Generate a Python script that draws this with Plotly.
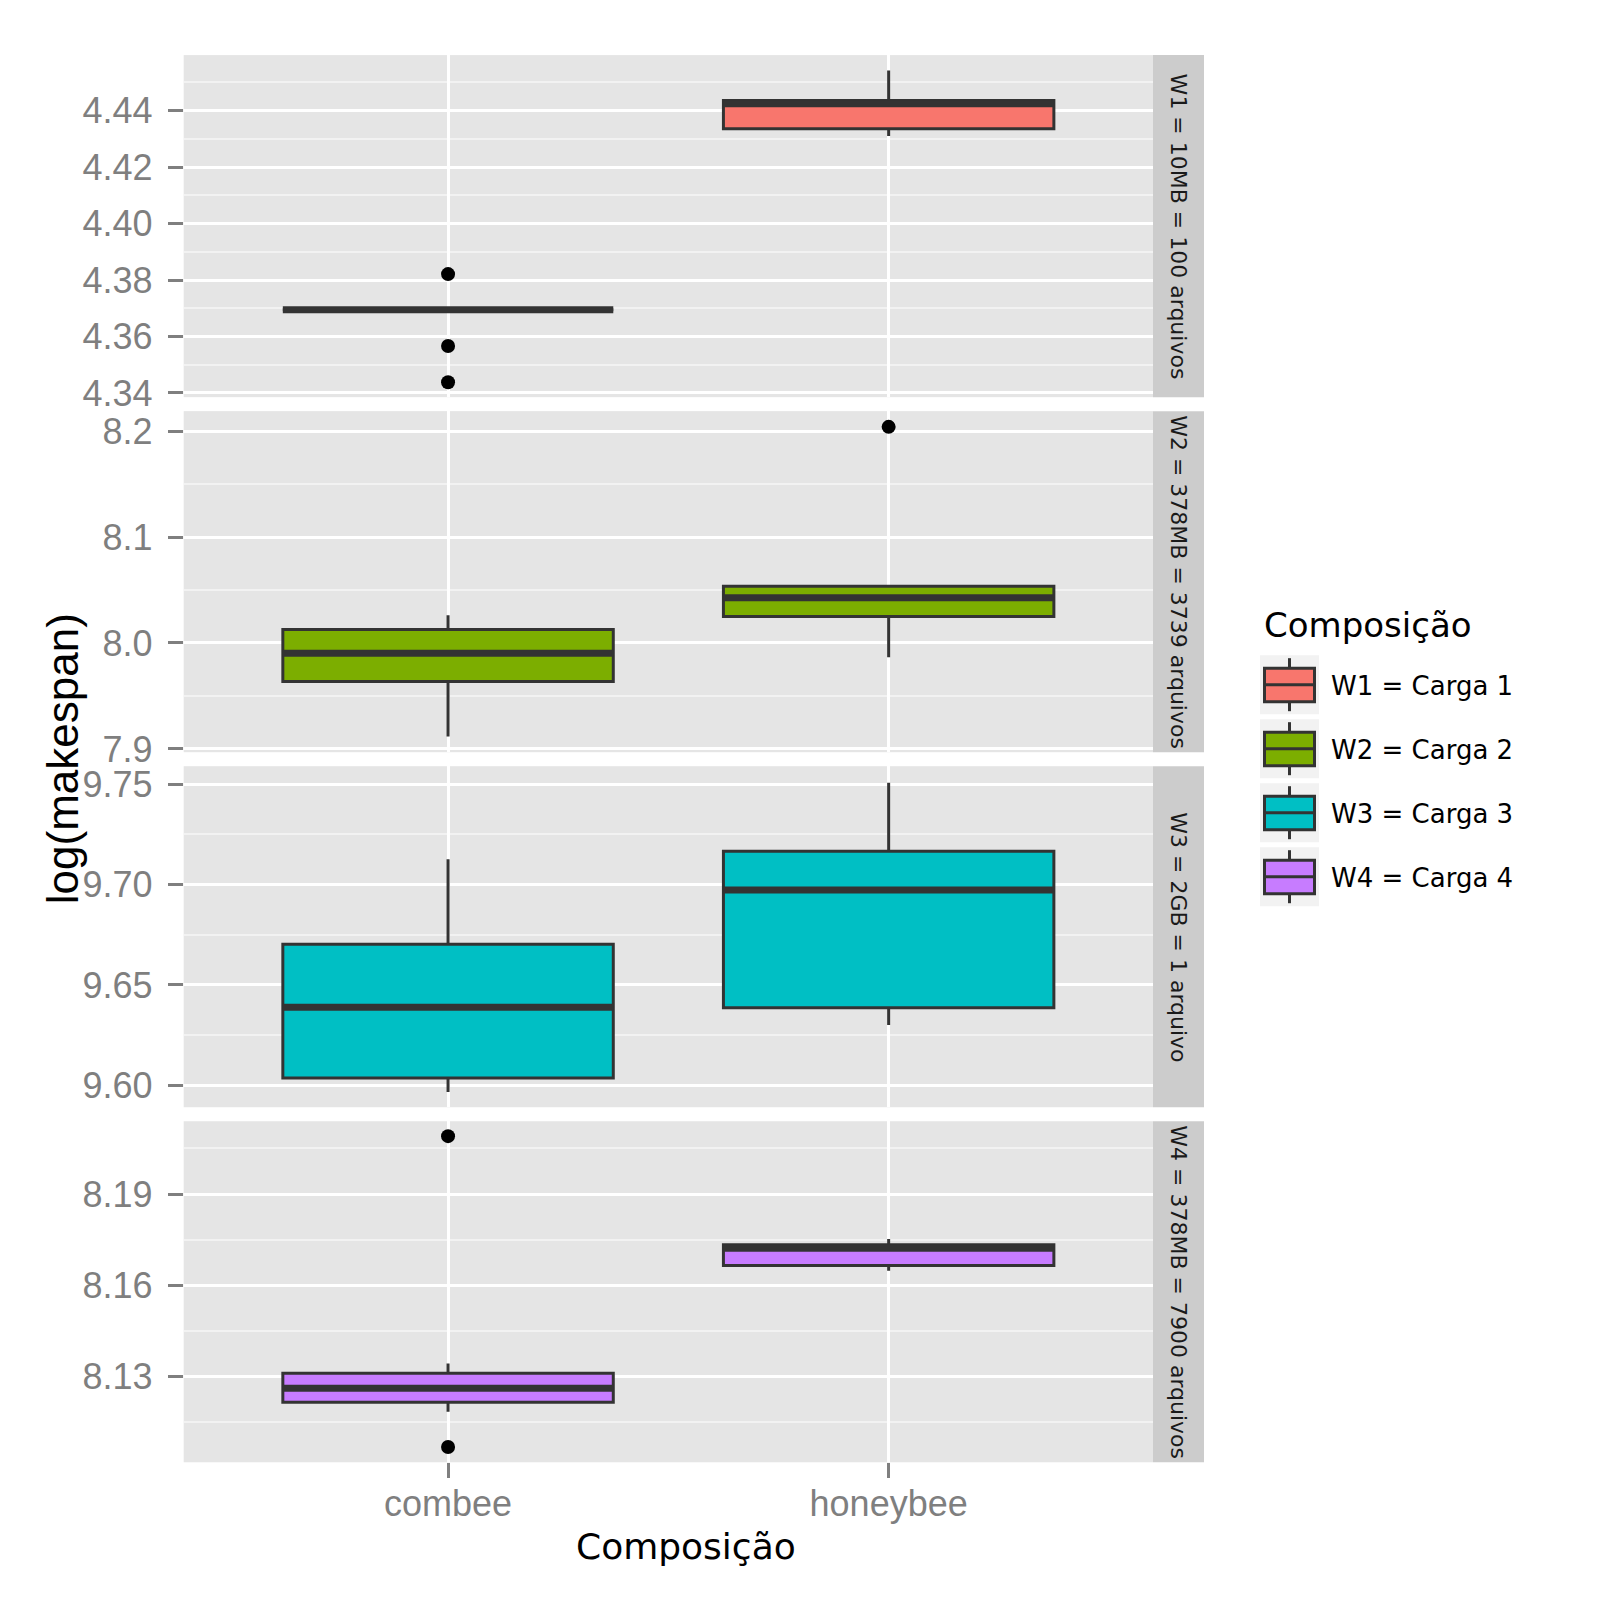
import plotly.graph_objects as go

# ---------------- data ----------------
categories = ["combee", "honeybee"]
panel_labels = ["W1 = 10MB = 100 arquivos", "W2 = 378MB = 3739 arquivos",
                "W3 = 2GB = 1 arquivo", "W4 = 378MB = 7900 arquivos"]
legend_labels = ["W1 = Carga 1", "W2 = Carga 2", "W3 = Carga 3", "W4 = Carga 4"]
colors = ["#F8766D", "#7CAE00", "#00BFC4", "#C77CFF"]

# per panel: [combee, honeybee]
q1 = [[4.3695, 4.4336], [7.9637, 8.0251], [9.6036, 9.6386], [8.1216, 8.1665]]
median = [[4.3695, 4.4425], [7.9904, 8.0427], [9.6389, 9.6972], [8.1262, 8.1722]]
q3 = [[4.3695, 4.4436], [8.0128, 8.0535], [9.6702, 9.7165], [8.1311, 8.1733]]
lower_whisker = [[4.3695, 4.4310], [7.9117, 7.9866], [9.5967, 9.6301], [8.1185, 8.1648]]
upper_whisker = [[4.3695, 4.4542], [8.0261, 8.0550], [9.7126, 9.7507], [8.1343, 8.1752]]
outliers_x = [[0, 0, 0], [1], [], [0, 0]]
outliers_y = [[4.3821, 4.3566, 4.3438], [8.2041], [], [8.2090, 8.1069]]

y_ranges = [[4.3385, 4.4597], [7.8969, 8.2189], [9.5891, 9.7589], [8.1019, 8.2139]]
y_tickvals = [[4.34, 4.36, 4.38, 4.40, 4.42, 4.44],
              [7.9, 8.0, 8.1, 8.2],
              [9.60, 9.65, 9.70, 9.75],
              [8.13, 8.16, 8.19]]
y_ticktext = [["4.34", "4.36", "4.38", "4.40", "4.42", "4.44"],
              ["7.9", "8.0", "8.1", "8.2"],
              ["9.60", "9.65", "9.70", "9.75"],
              ["8.13", "8.16", "8.19"]]
minor_step = [0.01, 0.05, 0.025, 0.015]

# ---------------- layout constants ----------------
OFF = 8        # browser body margin
SY = 0.988     # observed vertical scale of the rendered page
W = 1584
H = 1600
px_x = lambda v: (v - OFF) / W
px_y = lambda v: 1 - (v / SY - OFF) / H
x_dom = [px_x(183.7), px_x(1153)]
panel_px = [(53, 395), (409, 750), (764, 1105), (1119, 1460)]
box_w = 0.75
OUT = "#333333"
TICK_FONT = dict(family="Liberation Sans, Arial", size=36, color="#7F7F7F")
DV = "DejaVu Sans"

fig = go.Figure()
layout = dict(
    width=W, height=H,
    margin=dict(l=0, r=0, t=0, b=0),
    paper_bgcolor="white", plot_bgcolor="#E5E5E5",
    showlegend=False,
)

shapes = []
annotations = []

for i in range(4):
    xa = "x" if i == 0 else f"x{i+1}"
    ya = "y" if i == 0 else f"y{i+1}"
    xkey = "xaxis" if i == 0 else f"xaxis{i+1}"
    ykey = "yaxis" if i == 0 else f"yaxis{i+1}"
    top, bot = panel_px[i]
    for j, cat in enumerate(categories):
        fig.add_trace(go.Box(
            x=[j], q1=[q1[i][j]], median=[median[i][j]], q3=[q3[i][j]],
            lowerfence=[lower_whisker[i][j]], upperfence=[upper_whisker[i][j]],
            width=box_w, whiskerwidth=0, boxpoints=False,
            fillcolor=colors[i], line=dict(color=OUT, width=3),
            xaxis=xa, yaxis=ya, name=cat, hoverinfo="skip",
        ))
        fig.add_trace(go.Scatter(
            x=[j - box_w / 2, j + box_w / 2], y=[median[i][j], median[i][j]],
            mode="lines", line=dict(color=OUT, width=7),
            xaxis=xa, yaxis=ya, hoverinfo="skip",
        ))
    if outliers_y[i]:
        fig.add_trace(go.Scatter(
            x=outliers_x[i], y=outliers_y[i], mode="markers",
            marker=dict(color="black", size=14),
            xaxis=xa, yaxis=ya, hoverinfo="skip",
        ))
    bottom = (i == 3)
    layout[xkey] = dict(
        domain=x_dom, anchor=ya, range=[-0.6, 1.6],
        tickmode="array", tickvals=list(range(len(categories))),
        ticktext=categories if bottom else ["", ""],
        showticklabels=bottom,
        ticks="outside" if bottom else "", ticklen=15, tickwidth=3, tickcolor="#7F7F7F",
        tickfont=TICK_FONT, ticklabelstandoff=-5,
        showgrid=True, gridcolor="white", gridwidth=3,
        zeroline=False, showline=False,
    )
    if i > 0:
        layout[xkey]["matches"] = "x"
    layout[ykey] = dict(
        domain=[px_y(bot), px_y(top)], anchor=xa, range=y_ranges[i],
        tickmode="array", tickvals=y_tickvals[i], ticktext=y_ticktext[i],
        ticks="outside", ticklen=15, tickwidth=3, tickcolor="#7F7F7F",
        tickfont=TICK_FONT, ticklabelstandoff=8,
        showgrid=True, gridcolor="white", gridwidth=3,
        minor=dict(tick0=y_tickvals[i][0], dtick=minor_step[i], showgrid=True,
                   gridcolor="#F2F2F2", gridwidth=1.5, ticks=""),
        zeroline=False, showline=False,
    )
    # strip
    shapes.append(dict(type="rect", xref="paper", yref="paper",
                       x0=px_x(1153), x1=px_x(1204), y0=px_y(bot), y1=px_y(top),
                       fillcolor="#CCCCCC", line=dict(width=0), layer="below"))
    annotations.append(dict(text=panel_labels[i], xref="paper", yref="paper",
                            x=px_x(1178.5), y=px_y((top + bot) / 2), showarrow=False,
                            textangle=90, font=dict(family=DV, size=22, color="#1A1A1A"),
                            xanchor="center", yanchor="middle"))

# axis titles
annotations.append(dict(text="Composição", xref="paper", yref="paper",
                        x=px_x(686), y=px_y(1544), showarrow=False,
                        font=dict(family=DV, size=36, color="black"),
                        xanchor="center", yanchor="middle"))
annotations.append(dict(text="log(makespan)", xref="paper", yref="paper",
                        x=px_x(62), y=px_y(757), showarrow=False, textangle=-90,
                        font=dict(family="Liberation Sans, Arial", size=44, color="black"),
                        xanchor="center", yanchor="middle"))

# legend (manual, ggplot style)
annotations.append(dict(text="Composição", xref="paper", yref="paper",
                        x=px_x(1262), y=px_y(623), showarrow=False,
                        font=dict(family=DV, size=34, color="black"),
                        xanchor="left", yanchor="middle"))
key_top0 = 653
key_step = 64
key_size = 59
kx0, kx1 = 1260, 1319
for k in range(4):
    t = key_top0 + k * key_step
    cx = (kx0 + kx1) / 2
    shapes.append(dict(type="rect", xref="paper", yref="paper",
                       x0=px_x(kx0), x1=px_x(kx1), y0=px_y(t + key_size), y1=px_y(t),
                       fillcolor="#F2F2F2", line=dict(width=0)))
    shapes.append(dict(type="line", xref="paper", yref="paper",
                       x0=px_x(cx), x1=px_x(cx), y0=px_y(t + 3), y1=px_y(t + key_size - 3),
                       line=dict(color=OUT, width=3)))
    shapes.append(dict(type="rect", xref="paper", yref="paper",
                       x0=px_x(kx0 + 4.5), x1=px_x(kx1 - 4.5),
                       y0=px_y(t + 46.5), y1=px_y(t + 13),
                       fillcolor=colors[k], line=dict(color=OUT, width=3)))
    shapes.append(dict(type="line", xref="paper", yref="paper",
                       x0=px_x(kx0 + 4.5), x1=px_x(kx1 - 4.5),
                       y0=px_y(t + 29.5), y1=px_y(t + 29.5),
                       line=dict(color=OUT, width=3)))
    annotations.append(dict(text=legend_labels[k], xref="paper", yref="paper",
                            x=px_x(1329), y=px_y(t + 31), showarrow=False,
                            font=dict(family=DV, size=26, color="black"),
                            xanchor="left", yanchor="middle"))

layout["shapes"] = shapes
layout["annotations"] = annotations
fig.update_layout(**layout)
fig.write_html("out.html")
